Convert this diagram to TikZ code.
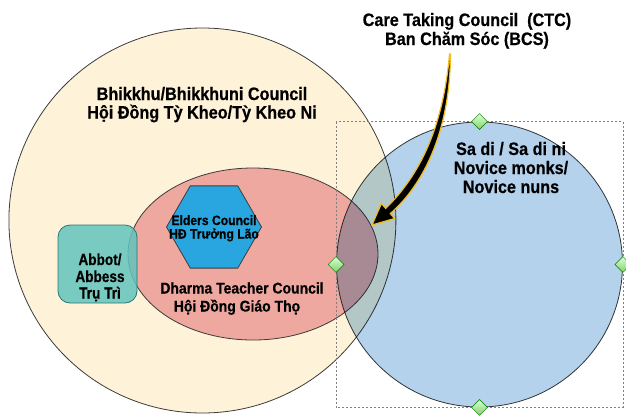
\documentclass[tikz,border=0pt]{standalone}
\usepackage{fontspec}
\setmainfont{Liberation Sans}
\newfontfamily\labf{Liberation Sans}[FakeStretch=0.9, BoldFeatures={FakeBold=0.5}]
\newfontfamily\labn{Liberation Sans}[FakeStretch=0.85, BoldFeatures={FakeBold=0.5}]
\usetikzlibrary{shapes.geometric}
\definecolor{ycream}{RGB}{254,242,216}
\definecolor{pinkc}{RGB}{238,168,160}
\definecolor{bluec}{RGB}{180,210,236}
\definecolor{hexc}{RGB}{41,166,224}
\definecolor{tealc}{RGB}{98,196,190}
\definecolor{tealedge}{RGB}{40,120,118}
\definecolor{edgec}{RGB}{60,60,60}
\definecolor{greenc}{RGB}{130,210,100}
\definecolor{glow}{RGB}{240,190,30}
\begin{document}
\begin{tikzpicture}[x=1pt,y=-1pt,
  blob/.style={ellipse, draw=edgec, line width=0.8pt, inner sep=0pt},
  lbl/.style={font=\labf\bfseries\fontsize{18}{19}\selectfont, anchor=base, inner sep=0pt},
  lblm/.style={font=\labf\bfseries\fontsize{15.5}{17}\selectfont, anchor=base, inner sep=0pt},
  lbls/.style={font=\labf\bfseries\fontsize{13.5}{14}\selectfont, anchor=base, inner sep=0pt},
  lbla/.style={font=\labn\bfseries\fontsize{16}{17}\selectfont, anchor=base, inner sep=0pt},
  handle/.style={diamond, draw=green!45!black, line width=0.4pt, top color=green!15, bottom color=greenc, minimum width=16pt, minimum height=16pt, inner sep=0pt}
]
\useasboundingbox (0,0) rectangle (626,416);
\fill[white] (0,0) rectangle (626,416);

% shapes
\node[blob, fill=ycream, minimum width=387pt, minimum height=385pt] (bhik) at (202.4,220.5) {};
\node[blob, fill=pinkc, minimum width=250pt, minimum height=172pt] (dharma) at (253,254) {};
\node[regular polygon, regular polygon sides=6, draw=edgec, line width=0.8pt, fill=hexc, minimum size=95pt, inner sep=0pt] (elders) at (214,227) {};
\node[draw=tealedge, line width=0.8pt, fill=tealc, fill opacity=0.85, rounded corners=12pt, minimum width=79pt, minimum height=78pt, inner sep=0pt] (abbot) at (97.5,264) {};
\begin{scope}[blend mode=multiply]
\node[blob, fill=bluec, minimum width=286pt, minimum height=285pt] (novice) at (479.5,264.5) {};
\end{scope}

% selection frame and handles
\draw[gray, line width=0.6pt, dash pattern=on 2pt off 2pt] (novice.west |- novice.north) rectangle (novice.east |- novice.south);
\node[handle] (hN) at (novice.north) {};
\node[handle] (hW) at (novice.west) {};
\node[handle] (hE) at (novice.east) {};
\node[handle] (hS) at (novice.south) {};

% arrow
\coordinate (arrstart) at (449.5,54);
\coordinate (arrtip) at (372,225);
\filldraw[fill=black, draw=glow, line width=1.2pt, line join=miter]
  (arrstart) .. controls (443,130) and (418,177) .. (385.7,208.4)
  -- (381.4,203.5) -- (arrtip) -- (394.6,218.5) -- (390.3,213.6)
  .. controls (424,184) and (450,131) .. (450.5,54) -- cycle;

% labels
\node[lbl] (ctc1) at (467,26) {Care Taking Council\ \ (CTC)};
\node[lbl] (ctc2) at (467,45) {Ban Chăm Sóc (BCS)};
\node[lbl] (bh1) at (202,100) {Bhikkhu/Bhikkhuni Council};
\node[lbl] (bh2) at (202,118.5) {Hội Đồng Tỳ Kheo/Tỳ Kheo Ni};
\node[lbl] (sa1) at (511,155) {Sa di / Sa di ni};
\node[lbl] (sa2) at (511,174) {Novice monks/};
\node[lbl] (sa3) at (511,193) {Novice nuns};
\node[lbls] (el1) at (214,225) {Elders Council};
\node[lbls] (el2) at (214,238.5) {HĐ Trưởng Lão};
\node[lbla] (ab1) at (100,265) {Abbot/};
\node[lbla] (ab2) at (100,282) {Abbess};
\node[lbla] (ab3) at (100,298.5) {Trụ Trì};
\node[lblm] (dh1) at (242,293.5) {Dharma Teacher Council};
\node[lblm] (dh2) at (237,311.5) {Hội Đồng Giáo Thọ};
\end{tikzpicture}
\end{document}
